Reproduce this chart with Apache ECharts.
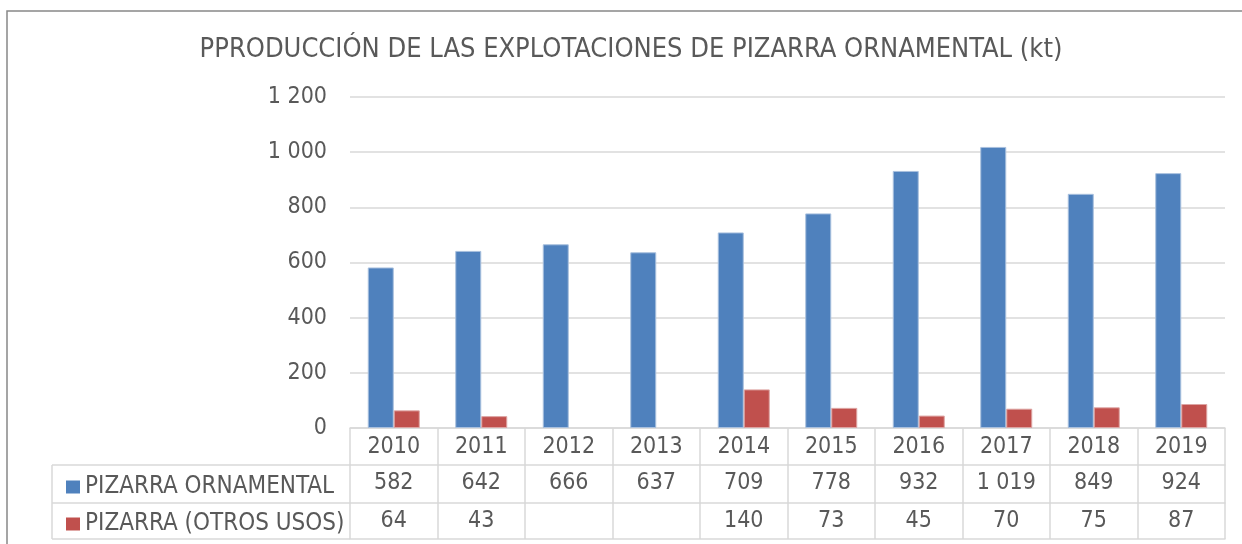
<!doctype html>
<html>
<head>
<meta charset="UTF-8">
<title>Pizarra ornamental</title>
<script src="https://cdn.jsdelivr.net/npm/echarts@6/dist/echarts.min.js"></script>
<style>
  html, body { margin: 0; padding: 0; background: #fff; }
  #main { width: 1242px; height: 544px; }
</style>
</head>
<body>
<div id="main"></div>
<script>
// datos
var years = ['2010', '2011', '2012', '2013', '2014', '2015', '2016', '2017', '2018', '2019'];
var ornamental = [582, 642, 666, 637, 709, 778, 932, 1019, 849, 924];
var otrosUsos = [64, 43, null, null, 140, 73, 45, 70, 75, 87];
var seriesNames = ['PIZARRA ORNAMENTAL', 'PIZARRA (OTROS USOS)'];

var FONT = "Tahoma, 'DejaVu Sans Condensed', 'DejaVu Sans', sans-serif";
var TXT = '#595959';
var LINE = '#d9d9d9';
var FS = 23;

// "1 019" con espacio de miles
function fmt(v) {
    if (v === null || v === undefined || v === '') return '';
    return String(v).replace(/\B(?=(\d{3})+(?!\d))/g, ' ');
}

var myChart = echarts.init(document.getElementById('main'));

// filas de la tabla: desplazamiento bajo el eje
var rowOffsets = [37, 75, 111];

function tableAxis(offset, values) {
    return {
        type: 'category',
        data: years,
        position: 'bottom',
        offset: offset,
        axisLine: { show: true, lineStyle: { color: LINE, width: 1.5 } },
        axisTick: { show: false },
        axisLabel: {
            show: !!values,
            interval: 0,
            margin: 7,
            color: TXT,
            fontFamily: FONT,
            fontSize: FS,
            formatter: function (val, idx) { return values ? fmt(values[idx]) : ''; }
        }
    };
}

var option = {
    animation: false,
    title: {
        text: 'PPRODUCCIÓN DE LAS EXPLOTACIONES DE PIZARRA ORNAMENTAL (kt)',
        left: 626,
        textAlign: 'center',
        top: 31,
        textStyle: { color: TXT, fontFamily: FONT, fontSize: 27, fontWeight: 'normal' }
    },
    legend: {
        orient: 'vertical',
        left: 61,
        top: 470,
        itemWidth: 14,
        itemHeight: 13,
        itemGap: 13,
        icon: 'rect',
        data: seriesNames,
        selectedMode: false,
        itemStyle: { borderWidth: 0 },
        textStyle: { color: TXT, fontFamily: FONT, fontSize: 24, lineHeight: 24, padding: [0, 0, 0, 0] }
    },
    grid: { left: 350, right: 17, top: 97, bottom: 116 },
    xAxis: [
        {
            type: 'category',
            data: years,
            axisLine: { show: true, lineStyle: { color: LINE, width: 1.5 } },
            axisTick: { show: true, interval: 0, length: 111, lineStyle: { color: LINE, width: 1.5 } },
            axisLabel: { interval: 0, margin: 8, color: TXT, fontFamily: FONT, fontSize: FS }
        },
        tableAxis(rowOffsets[0], ornamental),
        tableAxis(rowOffsets[1], otrosUsos),
        tableAxis(rowOffsets[2], null)
    ],
    yAxis: {
        type: 'value',
        min: 0,
        max: 1200,
        interval: 200,
        axisLine: { show: false },
        axisTick: { show: false },
        splitLine: { lineStyle: { color: LINE, width: 1.5 } },
        axisLabel: { margin: 23, color: TXT, fontFamily: FONT, fontSize: FS, formatter: fmt }
    },
    graphic: [
        // marco exterior
        { type: 'rect', shape: { x: 7, y: 11, width: 1400, height: 700 }, style: { fill: 'none', stroke: '#888', lineWidth: 1.5 }, silent: true },
        // columna de leyenda de la tabla
        { type: 'line', shape: { x1: 52, y1: 465, x2: 350, y2: 465 }, style: { stroke: LINE, lineWidth: 1.5 } },
        { type: 'line', shape: { x1: 52, y1: 503, x2: 350, y2: 503 }, style: { stroke: LINE, lineWidth: 1.5 } },
        { type: 'line', shape: { x1: 52, y1: 539, x2: 350, y2: 539 }, style: { stroke: LINE, lineWidth: 1.5 } },
        { type: 'line', shape: { x1: 52, y1: 465, x2: 52, y2: 539 }, style: { stroke: LINE, lineWidth: 1.5 } }
    ],
    series: [
        {
            name: seriesNames[0],
            type: 'bar',
            data: ornamental,
            barWidth: 26,
            barGap: '0%',
            itemStyle: { color: '#4f81bd', borderColor: '#a9c0de', borderWidth: 1 }
        },
        {
            name: seriesNames[1],
            type: 'bar',
            data: otrosUsos,
            barWidth: 26,
            barGap: '0%',
            itemStyle: { color: '#c0504d', borderColor: '#dda4a3', borderWidth: 1 }
        }
    ]
};

myChart.setOption(option);
</script>
</body>
</html>
